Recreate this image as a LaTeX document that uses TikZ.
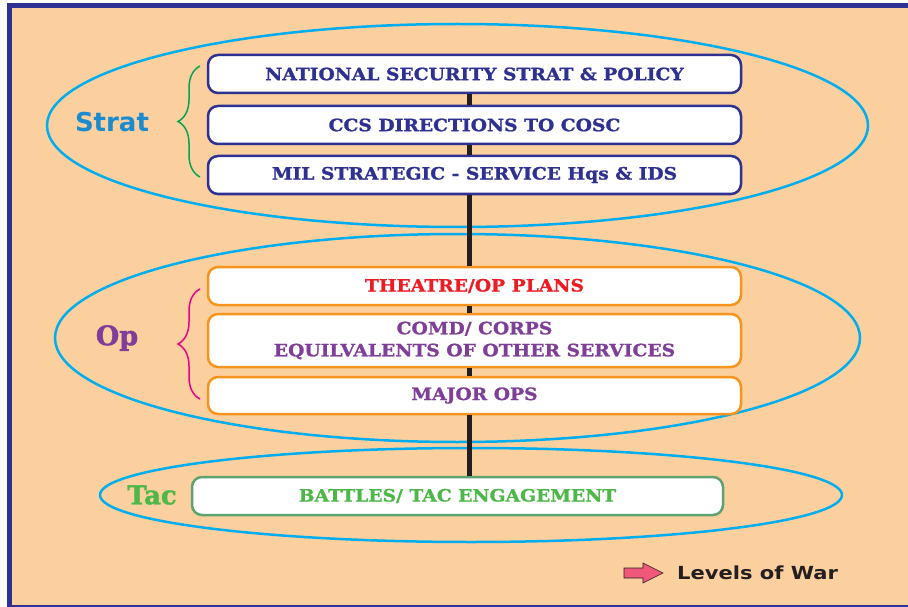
\documentclass[tikz,border=0pt]{standalone}
\usepackage{fontspec}
\setmainfont{DejaVu Serif}
\setsansfont{DejaVu Sans}
\newfontfamily\boxfont{DejaVu Serif}[BoldFeatures={FakeStretch=1.1, FakeBold=1.2}]
\newfontfamily\slabfont{DejaVu Serif}[BoldFeatures={FakeBold=1.5}]
\newfontfamily\keyfont{DejaVu Sans}[BoldFeatures={FakeStretch=1.17}]
\usepackage{tikz}
\usetikzlibrary{decorations.pathreplacing, positioning}
\usepackage{xcolor}

\definecolor{navy}{HTML}{2E3192}
\definecolor{peach}{HTML}{FCCF9E}
\definecolor{ringblue}{HTML}{00AEEF}
\definecolor{stratblue}{HTML}{1B8BCF}
\definecolor{opframe}{HTML}{F7941D}
\definecolor{opred}{HTML}{ED1C24}
\definecolor{oppurple}{HTML}{7F3F98}
\definecolor{tacgreen}{HTML}{4DB848}
\definecolor{tacframe}{HTML}{5DA271}
\definecolor{bracegreen}{HTML}{00A651}
\definecolor{bracepink}{HTML}{EC008C}
\definecolor{legendred}{HTML}{F0587A}
\definecolor{ink}{HTML}{231F20}

\begin{document}
\begin{tikzpicture}[x=1pt, y=1pt,
		level/.style={draw, fill=white, rounded corners=10pt, line width=2.5pt, inner sep=0pt,
			minimum width=533pt, minimum height=38pt, align=center,
			font=\boxfont\fontsize{17}{22}\selectfont\bfseries},
		stratbox/.style={level, draw=navy, text=navy},
		opbox/.style={level, draw=opframe, text=oppurple},
		tacbox/.style={level, draw=tacframe, text=tacgreen, minimum width=531pt},
		ring/.style={draw=ringblue, line width=2.5pt},
		spine/.style={draw=ink, line width=5pt},
		curly/.style={decorate, decoration={brace, amplitude=22pt}, line width=1.5pt}]
		\useasboundingbox (0,0) rectangle (908,-607);
		% frame
		\fill[peach] (7,-3) rectangle (908,-607);
		\fill[navy] (7,-3) rectangle (908,-8.3);
		\fill[navy] (7,-3) rectangle (12.3,-607);
		\fill[navy] (7,-605) rectangle (908,-607);
		
		% levels
		\draw[ring] (457.5,-125.5) ellipse [x radius=410.5, y radius=101.5];
		\draw[ring] (457.5,-338) ellipse [x radius=402.5, y radius=104];
		\draw[ring] (471,-495) ellipse [x radius=371, y radius=47];
		
		\draw (474.5,-74) node[stratbox] (b1) {NATIONAL SECURITY STRAT \& POLICY}
		(474.5,-125) node[stratbox] (b2) {CCS DIRECTIONS TO COSC}
		(474.5,-175) node[stratbox] (b3) {MIL STRATEGIC - SERVICE Hqs \& IDS}
		(474.5,-286) node[opbox, text=opred] (b4) {THEATRE/OP PLANS}
		(474.5,-340.5) node[opbox, minimum height=53pt] (b5) {COMD/ CORPS\\EQUILVALENTS OF OTHER SERVICES}
		(474.5,-395.5) node[opbox, minimum height=37pt] (b6) {MAJOR OPS}
		(457.5,-496) node[tacbox] (tac) {BATTLES/ TAC ENGAGEMENT};
		
		\foreach \a/\b in {b1/b2, b2/b3, b3/b4, b4/b5, b5/b6}
			\draw[spine] ([xshift=-5pt]\a.south) -- ([xshift=-5pt]\b.north);
		\draw[spine] ([xshift=-5pt]b6.south) -- ([xshift=-5pt]b6.south |- tac.north);
		
		% labels and braces
		\draw (112,-122) node[text=stratblue, font=\sffamily\bfseries\fontsize{26}{26}\selectfont] (strat) {Strat}
		(117,-338) node[text=oppurple, font=\slabfont\bfseries\fontsize{27}{27}\selectfont] (op) {Op}
		(152,-495) node[text=tacgreen, font=\slabfont\bfseries\fontsize{26}{26}\selectfont] (tacl) {Tac};
		\draw[curly, bracegreen] (200,-177) -- (200,-66);
		\draw[curly, bracepink] (200,-399) -- (200,-289);
		
		% legend
		\draw[fill=legendred, draw=ink, line width=0.6pt] (624,-568) -- (643,-568) -- (643,-563) -- (663,-573)
			-- (643,-583) -- (643,-578) -- (624,-578) -- cycle;
		\draw (677,-573) node[anchor=west, inner sep=0pt, text=ink, font=\keyfont\bfseries\fontsize{18}{18}\selectfont] (key) {Levels of War};
	\end{tikzpicture}
\end{document}
